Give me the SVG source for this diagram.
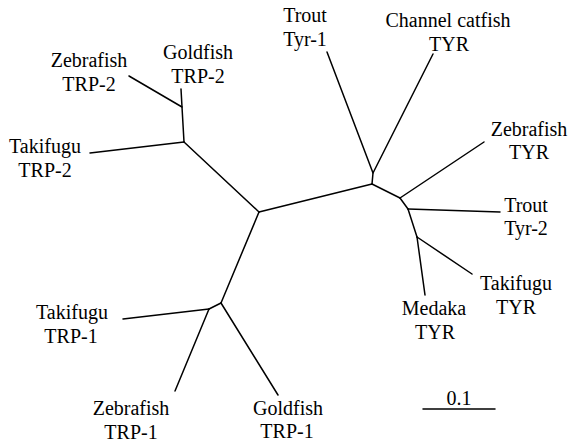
<svg xmlns="http://www.w3.org/2000/svg" width="568" height="443" viewBox="0 0 568 443">
<style>
text{font-size:20px;fill:#000;text-anchor:middle}
.e{stroke:#000;stroke-width:1.5;fill:none;stroke-linecap:round;stroke-linejoin:round}
</style>
<rect width="568" height="443" fill="#fff"/>
<g id="connectors" class="e">
<polyline points="129,76 182,107 184,142"/>
<line x1="181" y1="89" x2="182" y2="107"/>
<line x1="90" y1="153" x2="184" y2="142"/>
<line x1="184" y1="142" x2="259" y2="212"/>
<line x1="259" y1="212" x2="372" y2="184"/>
<polyline points="327,52 373,173 372,184"/>
<line x1="433" y1="54" x2="373" y2="173"/>
<line x1="372" y1="184" x2="400" y2="198"/>
<line x1="484" y1="142" x2="400" y2="198"/>
<line x1="400" y1="198" x2="408" y2="209"/>
<line x1="408" y1="209" x2="500" y2="212"/>
<line x1="408" y1="209" x2="417" y2="237"/>
<line x1="417" y1="237" x2="472" y2="274"/>
<line x1="417" y1="237" x2="425" y2="295"/>
<line x1="259" y1="212" x2="221" y2="303"/>
<line x1="221" y1="303" x2="209" y2="309"/>
<line x1="123" y1="319" x2="209" y2="309"/>
<line x1="209" y1="309" x2="175" y2="391"/>
<line x1="221" y1="303" x2="278" y2="395"/>
</g>
<g font-family="Liberation Serif, serif">
<g id="zebrafish-trp2"><text x="89" y="67">Zebrafish</text><text x="89" y="91">TRP-2</text></g>
<g id="goldfish-trp2"><text x="198" y="59">Goldfish</text><text x="198" y="83">TRP-2</text></g>
<g id="takifugu-trp2"><text x="45" y="153">Takifugu</text><text x="45" y="177">TRP-2</text></g>
<g id="trout-tyr1"><text x="305" y="22">Trout</text><text x="305" y="46">Tyr-1</text></g>
<g id="catfish-tyr"><text x="448" y="27">Channel catfish</text><text x="449" y="51">TYR</text></g>
<g id="zebrafish-tyr"><text x="529" y="136">Zebrafish</text><text x="529" y="159">TYR</text></g>
<g id="trout-tyr2"><text x="526" y="212">Trout</text><text x="526" y="235">Tyr-2</text></g>
<g id="takifugu-tyr"><text x="516" y="290">Takifugu</text><text x="516" y="314">TYR</text></g>
<g id="medaka-tyr"><text x="434" y="315">Medaka</text><text x="435" y="339">TYR</text></g>
<g id="takifugu-trp1"><text x="72" y="319">Takifugu</text><text x="71" y="343">TRP-1</text></g>
<g id="zebrafish-trp1"><text x="131" y="415">Zebrafish</text><text x="131" y="439">TRP-1</text></g>
<g id="goldfish-trp1"><text x="288" y="415">Goldfish</text><text x="287" y="438">TRP-1</text></g>
<g id="scale"><line class="e" x1="423" y1="409" x2="495" y2="409"/><text x="459" y="405">0.1</text></g>
</g>
</svg>
